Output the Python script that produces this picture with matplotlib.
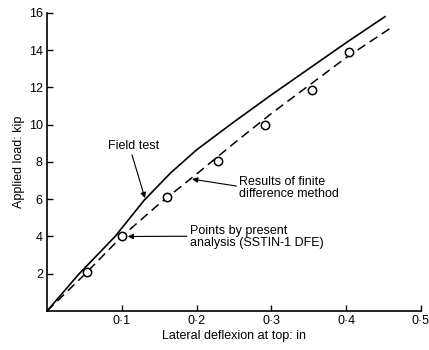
import matplotlib as mpl
mpl.use('Agg')
import matplotlib.pyplot as plt

plt.rcParams['font.family'] = ['Liberation Sans', 'DejaVu Sans']

# field test curve
field_x = [0, 0.043, 0.091, 0.13, 0.165, 0.2, 0.25, 0.3, 0.35, 0.4, 0.452]
field_y = [0, 2.0, 4.0, 5.95, 7.4, 8.65, 10.15, 11.6, 13.0, 14.4, 15.8]

# finite difference results (dashed)
fd_x = [0, 0.05, 0.1, 0.15, 0.2, 0.25, 0.3, 0.35, 0.4, 0.46]
fd_y = [0, 1.95, 4.0, 5.75, 7.35, 9.0, 10.6, 12.1, 13.6, 15.2]

# present analysis points
pts_x = [0.053, 0.1, 0.16, 0.229, 0.291, 0.354, 0.404]
pts_y = [2.1, 4.0, 6.1, 8.05, 9.97, 11.85, 13.9]

xticks = [0.1, 0.2, 0.3, 0.4, 0.5]
xticklabels = ['0\u00b71', '0\u00b72', '0\u00b73', '0\u00b74', '0\u00b75']
yticks = [2, 4, 6, 8, 10, 12, 14, 16]

fig = plt.figure(figsize=(4.29, 3.5), dpi=100)
ax = fig.add_axes([0.1096, 0.1114, 0.8714, 0.8516])

ax.plot(field_x, field_y, 'k-', lw=1.2)
ax.plot(fd_x, fd_y, 'k--', lw=1.1, dashes=(6, 3.5))
ax.plot(pts_x, pts_y, 'o', ms=6, mfc='white', mec='black', mew=1.1, zorder=3)

ax.set_xlim(0, 0.5)
ax.set_ylim(0, 16)
ax.set_xticks(xticks)
ax.set_xticklabels(xticklabels)
ax.set_yticks(yticks)
ax.tick_params(direction='in', length=4, width=1, labelsize=9, pad=3)
ax.spines['top'].set_visible(False)
ax.spines['right'].set_visible(False)
ax.spines['left'].set_linewidth(1.2)
ax.spines['bottom'].set_linewidth(1.2)

ax.set_xlabel('Lateral deflexion at top: in', fontsize=9, labelpad=2)
ax.set_ylabel('Applied load: kip', fontsize=9, labelpad=3)

arrow = dict(arrowstyle='-|>', lw=0.8, color='black', mutation_scale=8,
             shrinkA=0, shrinkB=0)
ax.annotate('Field test', xy=(0.131, 6.06), xytext=(0.116, 8.85),
            fontsize=9, ha='center', va='center',
            arrowprops=dict(arrow, relpos=(0.45, 0.0)))
ax.annotate('Results of finite\ndifference method', xy=(0.194, 7.08),
            xytext=(0.257, 6.62), fontsize=9, ha='left', va='center',
            linespacing=1.0, arrowprops=dict(arrow, relpos=(0.0, 0.55)))
ax.annotate('Points by present\nanalysis (SSTIN-1 DFE)', xy=(0.108, 4.0),
            xytext=(0.191, 3.95), fontsize=9, ha='left', va='center',
            linespacing=1.0, arrowprops=dict(arrow, relpos=(0.0, 0.55)))

fig.savefig('out.png', dpi=100)
